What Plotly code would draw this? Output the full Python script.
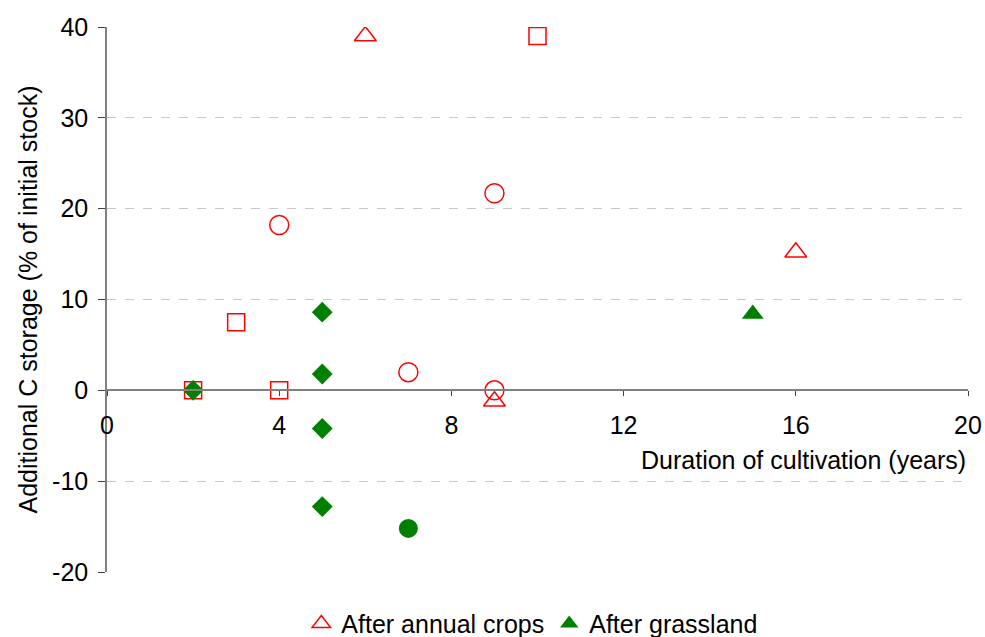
import plotly.graph_objects as go

# After annual crops (open red markers)
tri_annual_x = [6, 16, 9]
tri_annual_y = [39.0, 15.2, -1.2]
sq_annual_x = [2, 3, 4, 10]
sq_annual_y = [0.0, 7.5, 0.0, 39.0]
circ_annual_x = [4, 9, 7, 9]
circ_annual_y = [18.2, 21.7, 2.0, 0.0]

# After grassland (filled green markers)
dia_grass_x = [2, 5, 5, 5, 5]
dia_grass_y = [0.0, 8.6, 1.8, -4.2, -12.8]
tri_grass_x = [15]
tri_grass_y = [8.4]
circ_grass_x = [7]
circ_grass_y = [-15.2]

x_ticks = [0, 4, 8, 12, 16, 20]
y_ticks = [-20, -10, 0, 10, 20, 30, 40]

RED = "#FF0000"
GREEN = "#008000"
FONT = "Liberation Sans, Arial, sans-serif"
FS = 25

fig = go.Figure()

def open_marker(sym, size):
    return dict(symbol=sym, size=size, color="rgba(255,255,255,0)",
                line=dict(color=RED, width=1.5))

def filled_marker(sym, size):
    return dict(symbol=sym, size=size, color=GREEN, line=dict(color=GREEN, width=0))

fig.add_trace(go.Scatter(x=sq_annual_x, y=sq_annual_y, mode="markers",
                         marker=open_marker("square", 17), showlegend=False))
fig.add_trace(go.Scatter(x=circ_annual_x, y=circ_annual_y, mode="markers",
                         marker=open_marker("circle", 19), showlegend=False))
fig.add_trace(go.Scatter(x=tri_annual_x, y=tri_annual_y, mode="markers",
                         marker=open_marker("triangle-up", 19),
                         name="After annual crops"))
fig.add_trace(go.Scatter(x=dia_grass_x, y=dia_grass_y, mode="markers",
                         marker=filled_marker("diamond", 16), showlegend=False))
fig.add_trace(go.Scatter(x=circ_grass_x, y=circ_grass_y, mode="markers",
                         marker=filled_marker("circle", 19), showlegend=False))
fig.add_trace(go.Scatter(x=tri_grass_x, y=tri_grass_y, mode="markers",
                         marker=filled_marker("triangle-up", 19),
                         name="After grassland"))

fig.update_layout(
    width=985, height=637,
    margin=dict(l=107, r=17, t=27, b=65, autoexpand=False),
    paper_bgcolor="white", plot_bgcolor="white",
    font=dict(family=FONT, size=FS, color="black"),
    showlegend=True,
    legend=dict(orientation="h", x=0.494, xanchor="center", y=-0.095, yanchor="middle",
                font=dict(size=FS), itemwidth=30, tracegroupgap=0,
                bgcolor="rgba(0,0,0,0)"),
    xaxis=dict(range=[0, 20], tickvals=x_ticks, ticktext=[str(v) for v in x_ticks],
               showgrid=False, zeroline=False, showline=True, linecolor="#808080",
               linewidth=1.5, ticks="outside", ticklen=5, tickcolor="#404040",
               tickwidth=1, anchor="free", position=1/3, automargin=False,
               ticklabelstandoff=8, tickfont=dict(size=FS)),
    yaxis=dict(range=[-20, 40], tickvals=y_ticks, ticktext=[str(v) for v in y_ticks],
               showgrid=True, gridcolor="#C8C8C8", griddash="dash", gridwidth=1,
               zeroline=False, showline=True, linecolor="#808080", linewidth=1.5,
               ticks="outside", ticklen=7, tickcolor="#404040", tickwidth=1,
               automargin=False, ticklabelstandoff=5,
               tickfont=dict(size=FS),
               title=dict(text="Additional C storage (% of initial stock)",
                          font=dict(size=FS), standoff=7)),
)

fig.add_annotation(text="Duration of cultivation (years)", xref="paper", yref="y",
                   x=1.0, y=-7.7, xanchor="right", yanchor="middle",
                   showarrow=False, font=dict(size=FS, family=FONT))

fig.write_html("out.html", config={"displayModeBar": False},
               post_script="document.body.style.margin='0';")
